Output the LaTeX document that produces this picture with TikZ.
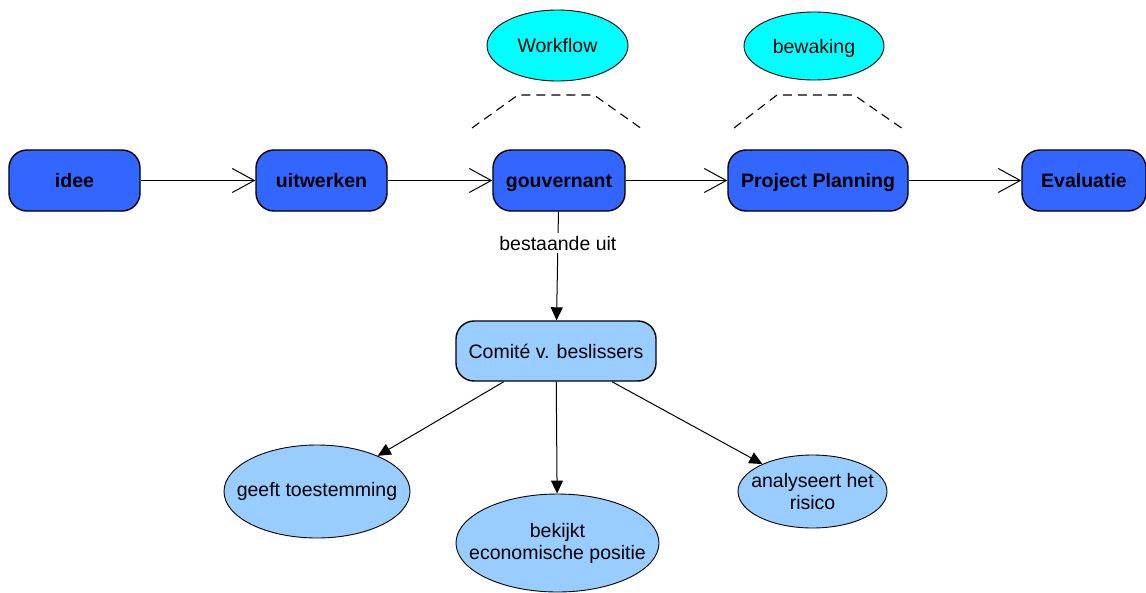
\documentclass[tikz,border=0pt]{standalone}
\usepackage{fontspec}
\setmainfont{Liberation Sans}
\usetikzlibrary{arrows.meta,shapes.geometric}
\definecolor{stepblue}{HTML}{3366FF}
\definecolor{paleblue}{HTML}{99CCFF}
\definecolor{aqua}{HTML}{00FFFF}
\newcommand{\labelfont}{\fontsize{19.5}{22}\selectfont}
\tikzset{
  stepbox/.style={draw=black, line width=1.4pt, fill=stepblue, rounded corners=18pt,
    minimum height=61pt, inner sep=2pt, text height=16pt, text depth=2pt,
    font=\labelfont\bfseries},
  groupbox/.style={draw=black, line width=1.4pt, fill=paleblue, rounded corners=18pt,
    minimum height=60pt, minimum width=200pt, inner sep=2pt, text height=16pt, text depth=2pt,
    font=\labelfont},
  topic/.style={ellipse, draw=black, line width=0.9pt, fill=aqua,
    inner xsep=-30pt, inner ysep=-6pt, text height=16pt, text depth=2pt,
    font=\labelfont},
  task/.style={ellipse, draw=black, line width=0.9pt, fill=paleblue,
    inner xsep=-40pt, inner ysep=-10pt, align=center,
    font=\labelfont},
  flow/.style={line width=1pt, -{Straight Barb[length=22pt,width=24pt]}},
  part/.style={line width=1pt, -{Triangle[length=13pt,width=12pt]}},
  bracket/.style={line width=1.1pt, dash pattern=on 9pt off 6pt},
}
\begin{document}
\begin{tikzpicture}[x=1pt,y=-1pt]
\useasboundingbox (0,0) rectangle (1146,592);

% main process chain
\node[stepbox, minimum width=131pt] (idee) at (74.5,180.5) {idee};
\node[stepbox, minimum width=131pt] (uitw) at (321.5,180.5) {uitwerken};
\node[stepbox, minimum width=132pt] (gouv) at (559,180.5) {gouvernant};
\node[stepbox, minimum width=180pt] (plan) at (818,180.5) {Project Planning};
\node[stepbox, minimum width=124pt] (eval) at (1084,180.5) {Evaluatie};

\draw[flow] (idee) -- (uitw);
\draw[flow] (uitw) -- (gouv);
\draw[flow] (gouv) -- (plan);
\draw[flow] (plan) -- (eval);

% topics above the chain
\node[topic, minimum width=141pt, minimum height=71pt] (workflow) at (557.5,45.5) {Workflow};
\node[topic, minimum width=140pt, minimum height=68pt] (bewaking) at (814,46) {bewaking};

\coordinate (wa) at (472,128);
\coordinate (wb) at (518,95);
\coordinate (wc) at (594,95);
\coordinate (wd) at (642,129);
\draw[bracket] (wa) -- (wb) -- (wc) -- (wd);
\coordinate (ba) at (734,128);
\coordinate (bb) at (777,95);
\coordinate (bc) at (854,95);
\coordinate (bd) at (903,129);
\draw[bracket] (ba) -- (bb) -- (bc) -- (bd);

% committee and its tasks
\node[groupbox] (comite) at (556,351) {Comité v. beslissers};
\draw[part] (gouv) -- node[pos=0.29, fill=white, inner sep=3pt,
  font=\labelfont] (lbl) {bestaande uit} (comite);

\node[task, minimum width=186pt, minimum height=93pt] (geeft) at (317,491.5) {geeft toestemming};
\node[task, minimum width=203pt, minimum height=98pt] (bekijkt) at (557.5,543) {bekijkt\\economische positie};
\node[task, minimum width=149pt, minimum height=73pt] (risico) at (812.5,491.5) {analyseert het\\risico};

\draw[part] (comite) -- (geeft);
\draw[part] (comite) -- (bekijkt);
\draw[part] (comite) -- (risico);
\end{tikzpicture}
\end{document}
